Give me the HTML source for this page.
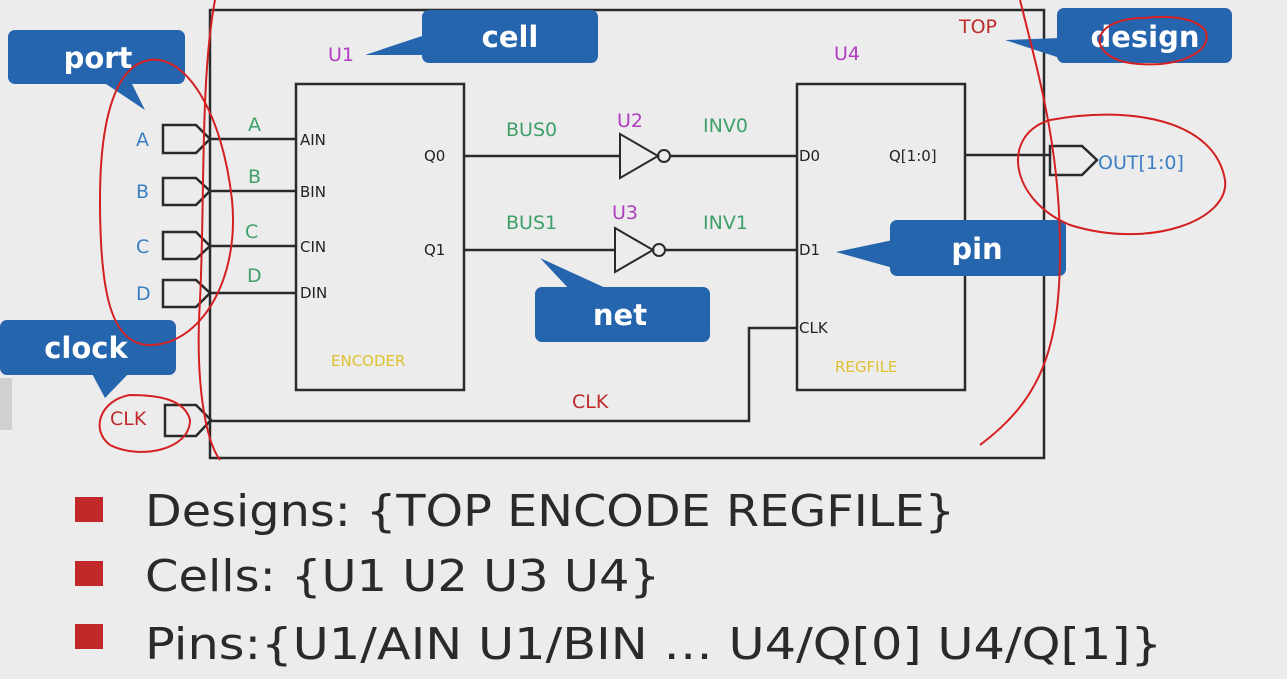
<!DOCTYPE html>
<html><head><style>
body{margin:0;background:#ececec;}
svg{display:block;font-family:"DejaVu Sans","Liberation Sans",sans-serif;}
</style></head><body>
<svg width="1287" height="679" viewBox="0 0 1287 679" xmlns="http://www.w3.org/2000/svg">
<rect width="1287" height="679" fill="#ececec"/>
<rect x="0" y="378" width="12" height="52" fill="#d0d0d0"/>
<g fill="none" stroke="#2a2a2a" stroke-width="2.5">
<rect x="210" y="10" width="834" height="448"/>
<rect x="296" y="84" width="168" height="306"/>
<rect x="797" y="84" width="168" height="306"/>
<path d="M163 125H196L210 139L196 153H163Z"/>
<path d="M163 178H196L210 191L196 205H163Z"/>
<path d="M163 232H196L210 246L196 259H163Z"/>
<path d="M163 280H196L210 293L196 307H163Z"/>
<path d="M165 405H196L211 420L196 436H165Z"/>
<path d="M1050 146H1082L1097 160L1082 175H1050Z"/>
<path d="M210 139H296M210 191H296M210 246H296M210 293H296"/>
<path d="M464 156H620M670 156H797M464 250H615M665 250H797"/>
<path d="M211 421H749V328H797"/>
<path d="M965 155H1050"/>
<path d="M620 134L658 156L620 178Z" stroke-width="2"/>
<circle cx="664" cy="156" r="6" stroke-width="2"/>
<path d="M615 228L653 250L615 272Z" stroke-width="2"/>
<circle cx="659" cy="250" r="6" stroke-width="2"/>
</g>
<g font-size="15" fill="#222">
<text x="300" y="145">AIN</text><text x="300" y="197">BIN</text><text x="300" y="252">CIN</text><text x="300" y="298">DIN</text>
<text x="424" y="161">Q0</text><text x="424" y="255">Q1</text>
<text x="799" y="161">D0</text><text x="799" y="255">D1</text><text x="799" y="333">CLK</text>
<text x="889" y="161">Q[1:0]</text>
</g>
<g font-size="19" fill="#3a7fc4">
<text x="136" y="146">A</text><text x="136" y="198">B</text><text x="136" y="253">C</text><text x="136" y="300">D</text>
<text x="1098" y="169">OUT[1:0]</text>
</g>
<g font-size="19" fill="#3fa06a">
<text x="248" y="131">A</text><text x="248" y="183">B</text><text x="245" y="238">C</text><text x="247" y="282">D</text>
<text x="506" y="136">BUS0</text><text x="506" y="229">BUS1</text>
<text x="703" y="132">INV0</text><text x="703" y="229">INV1</text>
</g>
<g font-size="19" fill="#b03cc0">
<text x="328" y="61">U1</text><text x="617" y="127">U2</text><text x="612" y="219">U3</text><text x="834" y="60">U4</text>
</g>
<g fill="#c02a2a" font-size="19">
<text x="110" y="425">CLK</text><text x="572" y="408">CLK</text><text x="959" y="33">TOP</text>
</g>
<g fill="#e0c030" font-size="15"><text x="331" y="366">ENCODER</text><text x="835" y="372">REGFILE</text></g>
<g fill="#2565ae">
<rect x="8" y="30" width="177" height="54" rx="7"/><path d="M100 80L145 110L130 80Z"/>
<rect x="422" y="10" width="176" height="53" rx="7"/><path d="M425 35L365 55L425 55Z"/>
<rect x="1057" y="8" width="175" height="55" rx="7"/><path d="M1060 38L1005 40L1060 58Z"/>
<rect x="890" y="220" width="176" height="56" rx="7"/><path d="M893 240L836 252L893 268Z"/>
<rect x="535" y="287" width="175" height="55" rx="7"/><path d="M540 258L570 290L610 290Z"/>
<rect x="0" y="320" width="176" height="55" rx="7"/><path d="M90 370L105 398L130 372Z"/>
</g>
<g fill="#fff" font-size="29" font-weight="bold" text-anchor="middle">
<text x="98" y="68">port</text><text x="510" y="47">cell</text><text x="1145" y="47">design</text>
<text x="977" y="259">pin</text><text x="620" y="325">net</text><text x="86" y="358">clock</text>
</g>
<g fill="none" stroke="#d42020" stroke-width="2">
<path d="M150 60C115 65 100 120 100 200C100 290 110 345 150 345C200 345 240 280 232 200C222 110 185 55 150 60"/>
<path d="M215 0C200 80 205 200 200 300C195 380 205 440 220 460"/>
<path d="M130 395C100 400 90 430 110 445C140 460 190 450 190 420C185 400 160 395 130 395"/>
<path d="M1020 0C1040 80 1060 150 1060 250C1060 350 1040 400 980 445"/>
<path d="M1050 120C1000 135 1010 200 1070 225C1150 250 1230 220 1225 180C1215 120 1130 105 1050 120"/>
<path d="M1145 18C1090 18 1085 55 1130 63C1180 70 1215 50 1205 30C1195 18 1170 15 1145 18"/>
</g>
<g fill="#c0282a"><rect x="75" y="497" width="28" height="25"/><rect x="75" y="561" width="28" height="25"/><rect x="75" y="624" width="28" height="25"/></g>
<g font-size="44" fill="#2a2a2a">
<text x="145" y="526" textLength="810" lengthAdjust="spacingAndGlyphs">Designs: {TOP ENCODE REGFILE}</text>
<text x="145" y="591" textLength="515" lengthAdjust="spacingAndGlyphs">Cells: {U1 U2 U3 U4}</text>
<text x="145" y="659" textLength="1017" lengthAdjust="spacingAndGlyphs">Pins:{U1/AIN U1/BIN … U4/Q[0] U4/Q[1]}</text>
</g>
</svg>
</body></html>
